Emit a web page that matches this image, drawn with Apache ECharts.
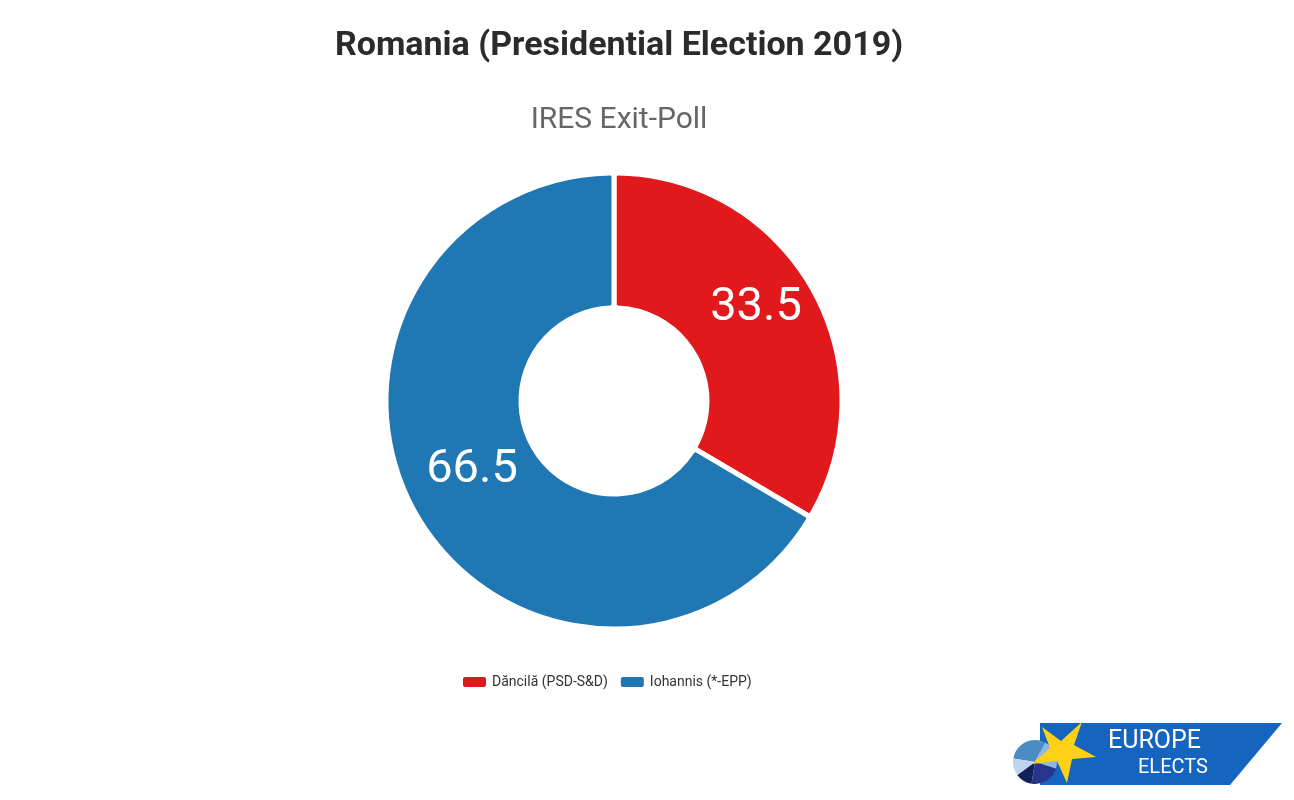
<!DOCTYPE html>
<html>
<head>
<meta charset="utf-8">
<script src="https://cdn.jsdelivr.net/npm/echarts@6/dist/echarts.min.js"></script>
<style>
  html, body { margin: 0; padding: 0; background: #fff; }
  #chart { width: 1294px; height: 800px; }
</style>
</head>
<body>
<div id="chart"></div>
<script>
// ---------- data ----------
const candidates = ['Dăncilă (PSD-S&D)', 'Iohannis (*-EPP)'];
const shares = [33.5, 66.5];
const colors = ['#e2191c', '#1f77b4'];

var chart = echarts.init(document.getElementById('chart'));

const pieData = candidates.map((name, i) => ({
  name: name,
  value: shares[i],
  itemStyle: { color: colors[i] }
}));

// little pie inside the logo
const logoWedges = [
  [-Math.PI * 0.95, -Math.PI * 0.35, '#4a8cc4'],
  [-Math.PI * 0.35, Math.PI * 0.1, '#8fb8e0'],
  [Math.PI * 0.1, Math.PI * 0.55, '#27368a'],
  [Math.PI * 0.55, Math.PI * 0.8, '#14205a'],
  [Math.PI * 0.8, Math.PI * 1.05, '#bcd5ee']
];

const option = {
  title: [
    {
      text: 'Romania (Presidential Election 2019)',
      left: 614,
      textAlign: 'center',
      top: 24,
      textStyle: { fontFamily: 'Roboto', fontWeight: 'bold', fontSize: 34, color: '#2b2b2b' }
    },
    {
      text: 'IRES Exit-Poll',
      left: 614,
      textAlign: 'center',
      top: 100,
      textStyle: { fontFamily: 'Roboto', fontWeight: 'normal', fontSize: 30, color: '#666' }
    }
  ],
  legend: {
    top: 670,
    left: 456,
    itemWidth: 25,
    itemHeight: 12,
    itemGap: 11,
    icon: 'roundRect',
    textStyle: { fontFamily: 'Roboto', fontSize: 14, color: '#333' },
    data: candidates
  },
  series: [
    {
      type: 'pie',
      center: [614, 401],
      radius: [93, 228],
      startAngle: 90,
      clockwise: true,
      animation: false,
      itemStyle: { borderColor: '#fff', borderWidth: 5, borderRadius: 4 },
      label: {
        position: 'inside',
        formatter: '{c}',
        color: '#fff',
        fontFamily: 'Roboto',
        fontSize: 47,
        offset: [0, -12],
        textBorderColor: 'transparent'
      },
      labelLine: { show: false },
      emphasis: { disabled: true },
      data: pieData
    }
  ],
  graphic: [
    {
      type: 'polygon',
      shape: { points: [[1040, 723], [1282, 723], [1230, 785], [1040, 785]] },
      style: { fill: '#1565c0' }
    }
  ].concat(logoWedges.map(w => ({
    type: 'sector',
    shape: { cx: 1035, cy: 762, r0: 0, r: 22, startAngle: w[0], endAngle: w[1] },
    style: { fill: w[2] }
  }))).concat([
    {
      type: 'polygon',
      shape: {
        points: [[1082, 722], [1074, 745], [1096, 757], [1072, 759], [1067, 783],
                 [1057, 761], [1032, 764], [1050, 748], [1042, 727], [1061, 741]]
      },
      style: { fill: '#fcd116' }
    },
    {
      type: 'text',
      left: 1108,
      top: 729,
      style: { text: 'EUROPE', fill: '#fff', fontFamily: 'Roboto', fontSize: 25 }
    },
    {
      type: 'text',
      left: 1138,
      top: 758,
      style: { text: 'ELECTS', fill: '#fff', fontFamily: 'Roboto', fontSize: 20 }
    }
  ])
};

chart.setOption(option);
</script>
</body>
</html>
